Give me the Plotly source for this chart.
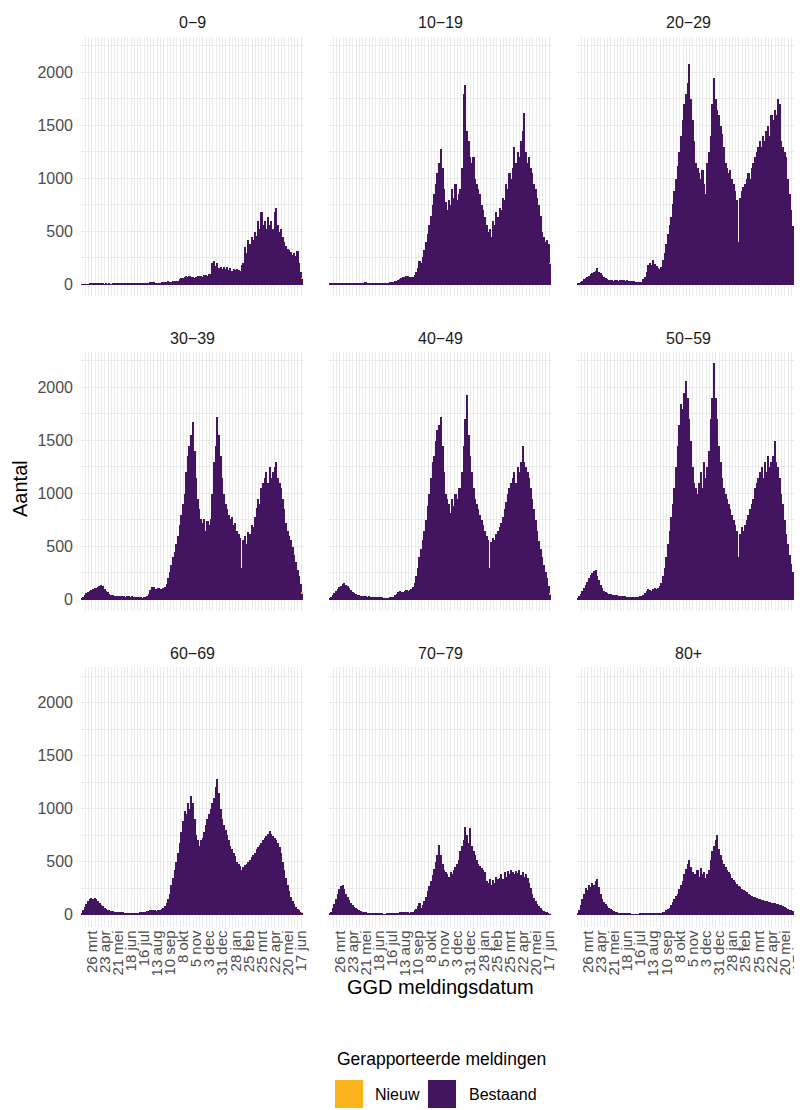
import numpy as np
import pandas as pd
import plotly.graph_objects as go

# page body has an 8px margin, so the figure is offset by 8px in the page
OFF = 8
W, H = 794, 1102

AGE_GROUPS = ["0−9", "10−19", "20−29", "30−39", "40−49", "50−59", "60−69", "70−79", "80+"]
START_DATE = "2020-03-03"
END_DATE = "2021-06-21"
BIN_DAYS = 3.5

# values per half-week bin, 8 bins (4 weeks) per row
BESTAAND_0_9 = [
    2, 3, 4, 5, 5, 6, 6, 7,
    7, 6, 8, 7, 6, 7, 5, 6,
    5, 6, 5, 6, 7, 8, 9, 10,
    10, 12, 10, 11, 9, 10, 8, 9,
    8, 9, 10, 9, 11, 12, 14, 13,
    15, 18, 20, 22, 20, 18, 16, 17,
    18, 20, 22, 25, 28, 30, 26, 28,
    30, 32, 34, 38, 48, 58, 64, 72,
    80, 72, 78, 68, 74, 66, 70, 76,
    78, 84, 72, 86, 90, 84, 96, 102,
    200, 220, 175, 205, 160, 170, 150, 165,
    150, 162, 140, 155, 130, 148, 135, 145,
    140, 128, 188, 200, 350, 300, 420, 380,
    450, 420, 500, 460, 600, 520, 680, 560,
    600, 520, 640, 560, 600, 520, 680, 720,
    560, 500, 520, 450, 400, 360, 340, 330,
    310, 280, 300, 270, 320, 200, 120, 60,
]
BESTAAND_10_19 = [
    8, 10, 12, 14, 15, 14, 13, 14,
    15, 13, 14, 12, 13, 11, 12, 10,
    10, 12, 14, 13, 15, 17, 20, 18,
    16, 14, 15, 13, 12, 14, 15, 13,
    12, 15, 14, 16, 18, 20, 22, 25,
    30, 35, 45, 55, 65, 70, 75, 80,
    78, 72, 75, 70, 90, 120, 160, 220,
    200, 260, 330, 400, 480, 560, 650, 750,
    850, 950, 1050, 1150, 1280, 1100, 900, 780,
    700, 800, 750, 900, 820, 950, 800, 850,
    900, 1100, 1800, 1880, 1450, 1350, 1200, 1150,
    1200, 1000, 950, 900, 850, 750, 700, 640,
    560, 500, 520, 450, 600, 560, 680, 640,
    720, 700, 820, 800, 950, 900, 1050, 1000,
    1100, 1300, 1150, 1250, 1200, 1350, 1450, 1620,
    1250, 1150, 1200, 1100, 1050, 950, 900, 820,
    750, 650, 500, 450, 400, 420, 380, 200,
]
BESTAAND_20_29 = [
    10, 15, 25, 35, 50, 60, 70, 85,
    95, 110, 120, 130, 155, 120, 105, 90,
    75, 60, 50, 45, 42, 40, 38, 40,
    42, 38, 45, 40, 42, 36, 40, 35,
    38, 35, 30, 28, 25, 22, 20, 25,
    55, 75, 120, 180, 200, 185, 230, 195,
    175, 160, 150, 170, 230, 300, 380, 480,
    560, 640, 760, 880, 1000, 1120, 1250, 1400,
    1550, 1700, 1800, 1900, 2080, 1750, 1550, 1350,
    1150, 1100, 1050, 1000, 1080, 950, 850, 1150,
    1250, 1400, 1700, 1950, 1750, 1650, 1600, 1500,
    1420, 1300, 1150, 1100, 1050, 1080, 1000, 950,
    880, 800, 400, 820, 880, 920, 950, 1000,
    1050, 1000, 1100, 1150, 1200, 1250, 1300, 1350,
    1300, 1400, 1350, 1450, 1500, 1400, 1600, 1550,
    1650, 1600, 1750, 1700, 1350, 1300, 1250, 1200,
    1000, 850, 700, 550, 420, 300, 220, 150,
]
BESTAAND_30_39 = [
    10, 25, 45, 60, 70, 80, 90, 100,
    105, 110, 120, 125, 140, 130, 100, 80,
    70, 55, 45, 40, 38, 35, 32, 30,
    34, 30, 35, 28, 32, 30, 28, 30,
    28, 25, 24, 22, 20, 18, 22, 26,
    30, 50, 90, 115, 120, 100, 95, 105,
    100, 95, 110, 120, 150, 200, 260, 330,
    400, 450, 520, 600, 700, 800, 900, 1000,
    1200, 1350, 1450, 1550, 1680, 1400, 1150, 950,
    850, 760, 720, 760, 650, 740, 700, 760,
    1000, 1300, 1450, 1720, 1550, 1350, 1150, 1000,
    900, 850, 800, 760, 780, 700, 720, 650,
    620, 580, 300, 560, 600, 520, 640, 620,
    700, 680, 780, 860, 950, 900, 1050, 1100,
    1150, 1200, 1100, 1250, 1150, 1200, 1250, 1300,
    1150, 1100, 1050, 950, 850, 720, 650, 600,
    560, 500, 420, 350, 280, 220, 150, 60,
]
BESTAAND_40_49 = [
    10, 20, 40, 60, 80, 100, 120, 130,
    150, 160, 140, 130, 110, 90, 75, 60,
    50, 45, 40, 38, 35, 32, 30, 28,
    30, 28, 26, 25, 24, 22, 20, 22,
    20, 18, 17, 16, 18, 20, 24, 28,
    40, 55, 70, 80, 75, 70, 80, 90,
    85, 90, 100, 120, 160, 220, 300, 400,
    480, 560, 650, 750, 880, 1000, 1150, 1300,
    1350, 1500, 1600, 1650, 1720, 1450, 1200, 1000,
    950, 900, 820, 950, 880, 1000, 950, 1050,
    1050, 1200, 1450, 1700, 1930, 1550, 1350, 1200,
    1050, 950, 900, 850, 800, 750, 700, 650,
    600, 560, 300, 540, 580, 560, 620, 650,
    680, 720, 780, 850, 920, 1000, 1050, 1100,
    1150, 1200, 1100, 1250, 1200, 1300, 1450, 1300,
    1250, 1200, 1150, 1050, 950, 850, 750, 650,
    550, 480, 400, 330, 260, 200, 130, 50,
]
BESTAAND_50_59 = [
    15, 30, 50, 80, 110, 140, 170, 200,
    230, 250, 270, 280, 220, 180, 140, 110,
    85, 70, 60, 55, 50, 45, 42, 40,
    40, 38, 35, 33, 30, 30, 28, 28,
    26, 24, 22, 20, 22, 26, 30, 35,
    45, 60, 80, 95, 90, 85, 95, 110,
    100, 110, 130, 160, 220, 300, 400, 520,
    650, 780, 900, 1050, 1250, 1450, 1650, 1850,
    1800, 1950, 2060, 1900, 1700, 1500, 1250, 1100,
    1050, 1000, 1100, 1200, 1050, 1300, 1150, 1250,
    1400, 1700, 1900, 2230, 1900, 1700, 1450, 1300,
    1150, 1050, 1000, 950, 900, 850, 800, 750,
    700, 650, 400, 620, 680, 650, 700, 750,
    800, 850, 900, 950, 1050, 1100, 1150, 1200,
    1250, 1150, 1300, 1200, 1350, 1250, 1300, 1350,
    1500, 1300, 1250, 1150, 1000, 900, 750, 620,
    520, 420, 340, 260, 200, 140, 80, 35,
]
BESTAAND_60_69 = [
    20, 40, 70, 100, 130, 150, 160, 150,
    160, 150, 130, 110, 95, 80, 65, 55,
    45, 40, 35, 32, 30, 28, 26, 25,
    24, 22, 20, 18, 17, 16, 15, 15,
    15, 16, 18, 20, 22, 24, 28, 30,
    35, 38, 40, 42, 45, 40, 38, 42,
    45, 50, 60, 80, 110, 150, 200, 280,
    350, 420, 500, 580, 680, 780, 880, 980,
    950, 1050, 1000, 1120, 1050, 900, 750, 700,
    650, 700, 720, 780, 850, 900, 950, 1000,
    1050, 1100, 1200, 1280, 1150, 1000, 900, 850,
    800, 750, 700, 650, 620, 580, 550, 500,
    480, 460, 420, 450, 470, 480, 500, 520,
    540, 560, 580, 620, 640, 660, 680, 700,
    720, 740, 760, 790, 760, 740, 720, 700,
    680, 640, 580, 500, 420, 350, 280, 220,
    170, 130, 100, 75, 55, 40, 30, 20,
]
BESTAAND_70_79 = [
    15, 30, 60, 100, 150, 200, 240, 270,
    280, 240, 200, 170, 140, 110, 90, 75,
    60, 50, 42, 36, 30, 26, 22, 20,
    18, 15, 13, 12, 10, 9, 8, 8,
    7, 6, 6, 7, 8, 10, 12, 14,
    16, 18, 20, 22, 24, 25, 26, 24,
    22, 20, 24, 30, 40, 55, 80, 110,
    60, 90, 130, 170, 220, 270, 320, 370,
    430, 500, 560, 660, 560, 480, 420, 400,
    380, 360, 400, 380, 420, 450, 480, 520,
    600, 650, 700, 830, 750, 680, 820, 650,
    600, 560, 520, 480, 460, 440, 420, 400,
    320, 300, 340, 280, 330, 300, 360, 340,
    350, 380, 340, 400, 360, 410, 380, 420,
    400, 380, 410, 390, 420, 370, 400, 360,
    380, 350, 300, 250, 200, 160, 130, 100,
    80, 60, 45, 35, 28, 22, 18, 12,
]
BESTAAND_80_PLUS = [
    15, 40, 90, 150, 200, 250, 230, 280,
    260, 300, 280, 320, 340, 260, 200, 150,
    120, 100, 80, 60, 50, 40, 32, 28,
    24, 20, 18, 15, 12, 10, 9, 8,
    7, 6, 6, 5, 6, 6, 7, 7,
    8, 9, 10, 12, 14, 15, 16, 18,
    18, 17, 19, 20, 22, 28, 40, 50,
    60, 90, 120, 150, 180, 200, 240, 280,
    320, 380, 430, 480, 520, 450, 400, 380,
    380, 420, 360, 440, 380, 400, 350, 380,
    420, 520, 600, 650, 700, 750, 620, 560,
    520, 480, 450, 420, 400, 380, 350, 330,
    310, 290, 270, 260, 240, 230, 220, 210,
    200, 190, 180, 170, 165, 160, 150, 145,
    140, 135, 130, 125, 120, 118, 115, 112,
    110, 105, 100, 95, 88, 80, 72, 65,
    55, 48, 40, 32, 26, 20, 15, 10,
]
BESTAAND = [BESTAAND_0_9, BESTAAND_10_19, BESTAAND_20_29,
            BESTAAND_30_39, BESTAAND_40_49, BESTAAND_50_59,
            BESTAAND_60_69, BESTAAND_70_79, BESTAAND_80_PLUS]
# new reports only appear in the most recent bin
NIEUW_LAST_BIN = [1, 3, 6, 4, 3, 3, 1, 1, 0]

TICK_FIRST = "2020-03-26"
TICK_STEP_DAYS = 28
TICK_LABELS = ["26 mrt", "23 apr", "21 mei", "18 jun", "16 jul", "13 aug",
               "10 sep", "8 okt", "5 nov", "3 dec", "31 dec", "28 jan",
               "25 feb", "25 mrt", "22 apr", "20 mei", "17 jun"]
Y_TICKS = [0, 500, 1000, 1500, 2000]
Y_RANGE = [-111, 2336]

PURPLE = "#43145F"
ORANGE = "#FBB31B"
GRID = "#EBEBEB"
FONT = "Liberation Sans, Arial, sans-serif"

# page-pixel positions of the panels
COL_PX = [(81, 303), (329, 551), (577, 800)]
ROW_PX = [(36.7, 296), (351.7, 611), (667, 926.5)]


def px_x(v):
    return (v - OFF) / W


def px_y(v):
    return 1 - (v - OFF) / H


DAY_MS = 86400000
start = pd.Timestamp(START_DATE)
tick_dates = [(pd.Timestamp(TICK_FIRST) + pd.Timedelta(days=TICK_STEP_DAYS * k)).strftime("%Y-%m-%d")
              for k in range(len(TICK_LABELS))]

fig = go.Figure()
layout = dict(
    width=W, height=H, margin=dict(l=0, r=0, t=0, b=0),
    paper_bgcolor="white", plot_bgcolor="white",
    barmode="stack", bargap=0, showlegend=False,
    font=dict(family=FONT, size=16, color="#4D4D4D"),
)
annotations = []
shapes = []

for p, vals in enumerate(BESTAAND):
    r, c = divmod(p, 3)
    sfx = "" if p == 0 else str(p + 1)
    xa, ya = "x" + sfx, "y" + sfx
    n = len(vals)
    centers = [(start + pd.Timedelta(days=BIN_DAYS * (i + 0.5))).strftime("%Y-%m-%d %H:%M")
               for i in range(n)]
    fig.add_trace(go.Bar(x=centers, y=vals, width=[BIN_DAYS * DAY_MS] * n,
                         marker=dict(color=PURPLE, line=dict(width=0)),
                         name="Bestaand", xaxis=xa, yaxis=ya, hoverinfo="x+y"))
    fig.add_trace(go.Bar(x=[centers[-1]], y=[NIEUW_LAST_BIN[p]], width=[BIN_DAYS * DAY_MS],
                         marker=dict(color=ORANGE, line=dict(width=0)),
                         name="Nieuw", xaxis=xa, yaxis=ya, hoverinfo="x+y"))

    x0, x1 = COL_PX[c]
    y0, y1 = ROW_PX[r]
    layout["xaxis" + sfx] = dict(
        domain=[px_x(x0), px_x(x1)], anchor=ya, type="date",
        range=[START_DATE, END_DATE],
        tickmode="array", tickvals=tick_dates, ticktext=TICK_LABELS,
        tickangle=-90, showticklabels=(r == 2), ticks="",
        ticklabeloverflow="allow",
        tickfont=dict(size=15, color="#4D4D4D"),
        showgrid=True, gridcolor=GRID, gridwidth=1.2,
        minor=dict(tickmode="linear", tick0=TICK_FIRST, dtick=7 * DAY_MS,
                   showgrid=True, gridcolor=GRID, gridwidth=0.7),
        zeroline=False, showline=False, fixedrange=True, automargin=False,
    )
    layout["yaxis" + sfx] = dict(
        domain=[px_y(y1), px_y(y0)], anchor=xa, range=Y_RANGE,
        tickmode="array", tickvals=Y_TICKS, ticktext=[str(v) for v in Y_TICKS],
        showticklabels=(c == 0), ticks="", ticklabelstandoff=7,
        tickfont=dict(size=16, color="#4D4D4D"),
        showgrid=True, gridcolor=GRID, gridwidth=1.2,
        minor=dict(tickmode="linear", tick0=0, dtick=250,
                   showgrid=True, gridcolor=GRID, gridwidth=0.7),
        zeroline=False, showline=False, fixedrange=True, automargin=False,
    )
    strip_y = [22.5, 338, 653][r]
    annotations.append(dict(text=AGE_GROUPS[p], x=px_x((x0 + x1) / 2), y=px_y(strip_y),
                            xref="paper", yref="paper", showarrow=False,
                            xanchor="center", yanchor="middle",
                            font=dict(size=16, color="#1A1A1A")))

# axis titles
annotations.append(dict(text="GGD meldingsdatum", x=px_x(440.5), y=px_y(987),
                        xref="paper", yref="paper", showarrow=False,
                        xanchor="center", yanchor="middle",
                        font=dict(size=20, color="#000000")))
annotations.append(dict(text="Aantal", x=px_x(20), y=px_y(489), textangle=-90,
                        xref="paper", yref="paper", showarrow=False,
                        xanchor="center", yanchor="middle",
                        font=dict(size=20, color="#000000")))

# legend (drawn as key boxes + labels)
annotations.append(dict(text="Gerapporteerde meldingen", x=px_x(335), y=px_y(1059),
                        xref="paper", yref="paper", showarrow=False,
                        xanchor="left", yanchor="middle",
                        font=dict(size=17.5, color="#000000")))
legend_items = [("Nieuw", ORANGE, 335, 373), ("Bestaand", PURPLE, 428, 467)]
for label, color, kx, tx in legend_items:
    shapes.append(dict(type="rect", xref="paper", yref="paper",
                       x0=px_x(kx), x1=px_x(kx + 28), y0=px_y(1108), y1=px_y(1080),
                       fillcolor=color, line=dict(width=0)))
    annotations.append(dict(text=label, x=px_x(tx), y=px_y(1094),
                            xref="paper", yref="paper", showarrow=False,
                            xanchor="left", yanchor="middle",
                            font=dict(size=16, color="#000000")))

layout["annotations"] = annotations
layout["shapes"] = shapes
fig.update_layout(**layout)
fig.write_html("out.html")
